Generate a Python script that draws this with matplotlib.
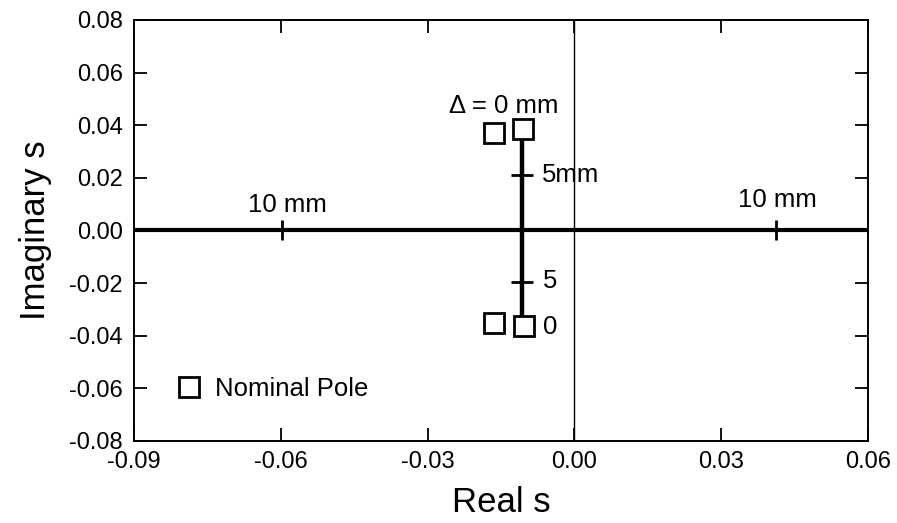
import matplotlib.pyplot as plt
import numpy as np

plt.rcParams['font.family'] = ['Liberation Sans', 'DejaVu Sans']

# root locus branches
locus_x = [-0.0107, -0.0107]
locus_y = [0.0386, -0.0363]
axis_line_x = [-0.09, 0.06]
axis_line_y = [0.0, 0.0]

# nominal poles
pole_re = [-0.0165, -0.0105, -0.0164, -0.0104]
pole_im = [0.0372, 0.0386, -0.0353, -0.0363]

# tick marks on the locus (5 mm, 10 mm points)
mark_v_x = [-0.0107, -0.0107]
mark_v_y = [0.0211, -0.0195]
mark_h_x = [-0.0598, 0.0411]
mark_h_y = [0.0, 0.0]

xticks = [-0.09, -0.06, -0.03, 0.00, 0.03, 0.06]
yticks = [-0.08, -0.06, -0.04, -0.02, 0.00, 0.02, 0.04, 0.06, 0.08]

fig = plt.figure(figsize=(8.97, 5.23), dpi=100)
ax = fig.add_axes([0.1494, 0.1568, 0.8183, 0.805])

ax.axvline(0, color='black', lw=1.0)
ax.plot(axis_line_x, axis_line_y, color='black', lw=3.0, solid_capstyle='butt')
ax.plot(locus_x, locus_y, color='black', lw=3.2)
ax.plot(mark_v_x, mark_v_y, ls='none', marker='_', ms=16, mew=2, color='black')
ax.plot(mark_h_x, mark_h_y, ls='none', marker='|', ms=14, mew=2, color='black')
ax.plot(pole_re, pole_im, ls='none', marker='s', ms=14, mew=2,
        mfc='white', mec='black', label='Nominal Pole', zorder=5)

fs = 18.5
ax.text(-0.0144, 0.0447, '\u0394 = 0 mm', fontsize=fs, ha='center', va='baseline')
ax.text(-0.0066, 0.0184, '5mm', fontsize=fs, ha='left', va='baseline')
ax.text(-0.0586, 0.0072, '10 mm', fontsize=fs, ha='center', va='baseline')
ax.text(0.0414, 0.0090, '10 mm', fontsize=fs, ha='center', va='baseline')
ax.text(-0.0064, -0.0219, '5', fontsize=fs, ha='left', va='baseline')
ax.text(-0.0064, -0.0393, '0', fontsize=fs, ha='left', va='baseline')

ax.legend(loc='center left', bbox_to_anchor=(0.057, 0.1235), frameon=False,
          fontsize=fs, handletextpad=0.52, handlelength=1.0, numpoints=1,
          borderpad=0, borderaxespad=0)

ax.set_xlim(-0.09, 0.06)
ax.set_ylim(-0.08, 0.08)
ax.set_xticks(xticks)
ax.set_yticks(yticks)
ax.set_xticklabels([f'{v:.2f}' for v in xticks])
ax.set_yticklabels([f'{v:.2f}' for v in yticks])
ax.tick_params(direction='in', length=9.5, width=1.3, top=True, right=True,
               labelsize=17)
ax.tick_params(axis='x', pad=7)
ax.tick_params(axis='y', pad=8)
for s in ax.spines.values():
    s.set_linewidth(1.4)

ax.set_xlabel('Real s', fontsize=25)
ax.set_ylabel('Imaginary s', fontsize=25)
ax.xaxis.set_label_coords(0.5, -0.107)
ax.yaxis.set_label_coords(-0.112, 0.5)

fig.savefig('out.png', dpi=100)
